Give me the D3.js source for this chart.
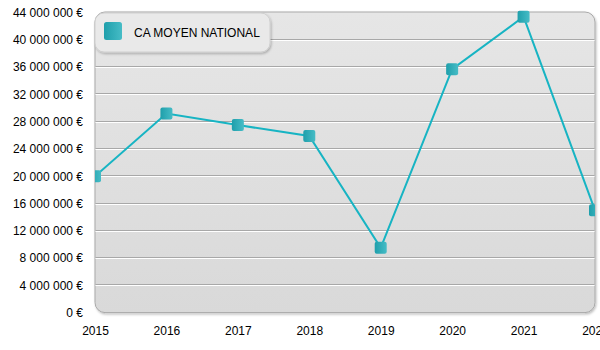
<!DOCTYPE html>
<html>
<head>
<meta charset="utf-8">
<script src="https://cdn.jsdelivr.net/npm/d3@7"></script>
<style>
  html, body { margin: 0; padding: 0; background: #ffffff; }
  svg { display: block; font-family: "Liberation Sans", Arial, sans-serif; }
</style>
</head>
<body>
<svg id="chart" width="600" height="350"></svg>
<script>
// Chiffre d'affaires moyen national par année
const years = ["2015", "2016", "2017", "2018", "2019", "2020", "2021", "2022"];
const caMoyen = [20000000, 29200000, 27500000, 25900000, 9500000, 35700000, 43400000, 15000000];
const yTicks = [0, 4000000, 8000000, 12000000, 16000000, 20000000, 24000000, 28000000, 32000000, 36000000, 40000000, 44000000];
const seriesName = "CA MOYEN NATIONAL";

const W = 600, H = 350;
const plot = { left: 95, right: 595, top: 12.6, bottom: 312.6 };

const svg = d3.select("#chart");
const defs = svg.append("defs");

const bg = defs.append("linearGradient").attr("id", "bgGrad")
  .attr("x1", 0).attr("y1", 0).attr("x2", 0).attr("y2", 1);
bg.append("stop").attr("offset", "0%").attr("stop-color", "#e6e6e6");
bg.append("stop").attr("offset", "100%").attr("stop-color", "#d9d9d9");

const mk = defs.append("linearGradient").attr("id", "mkGrad")
  .attr("x1", 0).attr("y1", 0).attr("x2", 1).attr("y2", 0);
mk.append("stop").attr("offset", "0%").attr("stop-color", "#1f9fab");
mk.append("stop").attr("offset", "100%").attr("stop-color", "#46bcc6");

const shadow = defs.append("filter").attr("id", "shadow")
  .attr("x", "-10%").attr("y", "-10%").attr("width", "130%").attr("height", "140%");
shadow.append("feDropShadow").attr("dx", 1).attr("dy", 1.5).attr("stdDeviation", 1.2)
  .attr("flood-color", "#000").attr("flood-opacity", 0.25);

defs.append("clipPath").attr("id", "plotClip")
  .append("rect")
  .attr("x", plot.left).attr("y", 0)
  .attr("width", plot.right - plot.left).attr("height", plot.bottom + 2);

const x = d3.scalePoint().domain(years).range([plot.left, plot.right]);
const y = d3.scaleLinear().domain([0, 44000000]).range([plot.bottom, plot.top]);

const fmt = v => d3.format(",")(v).replace(/,/g, " ") + " €";

// Plot background panel
svg.append("rect")
  .attr("x", plot.left).attr("y", plot.top - 0.6)
  .attr("width", plot.right - plot.left).attr("height", plot.bottom - plot.top + 0.6)
  .attr("rx", 10).attr("ry", 10)
  .attr("fill", "url(#bgGrad)")
  .attr("stroke", "#a9a9a9").attr("stroke-width", 1)
  .attr("filter", "url(#shadow)");

// Gridlines: grey line with a white highlight beneath
const gridVals = yTicks.filter(v => v > 0 && v < 44000000);
const grid = svg.append("g");
grid.selectAll("line.g1").data(gridVals).join("line")
  .attr("x1", plot.left + 0.5).attr("x2", plot.right - 0.5)
  .attr("y1", d => Math.round(y(d)) - 0.5).attr("y2", d => Math.round(y(d)) - 0.5)
  .attr("stroke", "#a8a8a8").attr("stroke-width", 1);
grid.selectAll("line.g2").data(gridVals).join("line")
  .attr("x1", plot.left + 0.5).attr("x2", plot.right - 0.5)
  .attr("y1", d => Math.round(y(d)) + 0.5).attr("y2", d => Math.round(y(d)) + 0.5)
  .attr("stroke", "#ffffff").attr("stroke-width", 1);

// Y axis labels
const yAxis = d3.axisLeft(y).tickValues(yTicks).tickFormat(fmt).tickSize(0).tickPadding(0);
const yg = svg.append("g").attr("transform", `translate(${plot.left - 12},0)`).call(yAxis);
yg.select(".domain").remove();
yg.selectAll("text").attr("font-size", 12).attr("fill", "#000")
  .attr("font-family", "'Liberation Sans', Arial, sans-serif");

// X axis labels
const xAxis = d3.axisBottom(x).tickSize(0).tickPadding(0);
const xg = svg.append("g").attr("transform", `translate(0,${plot.bottom + 14})`).call(xAxis);
xg.select(".domain").remove();
xg.selectAll("text").attr("font-size", 12).attr("fill", "#000")
  .attr("font-family", "'Liberation Sans', Arial, sans-serif");

// Series line and markers
const data = years.map((yr, i) => ({ year: yr, value: caMoyen[i] }));
const series = svg.append("g").attr("clip-path", "url(#plotClip)");
series.append("path")
  .datum(data)
  .attr("fill", "none")
  .attr("stroke", "#17b4c3")
  .attr("stroke-width", 2)
  .attr("d", d3.line().x(d => x(d.year)).y(d => y(d.value)));

const ms = 12;
series.selectAll("rect.marker").data(data).join("rect")
  .attr("class", "marker")
  .attr("x", d => x(d.year) - ms / 2).attr("y", d => y(d.value) - ms / 2)
  .attr("width", ms).attr("height", ms)
  .attr("rx", 2).attr("ry", 2)
  .attr("fill", "url(#mkGrad)");

// Legend
const lg = svg.append("g").attr("transform", "translate(95,13)");
lg.append("rect")
  .attr("x", 0).attr("y", 0).attr("width", 175).attr("height", 39)
  .attr("rx", 9).attr("ry", 9)
  .attr("fill", "#e9e9e9")
  .attr("stroke", "#cfcfcf").attr("stroke-width", 1)
  .attr("filter", "url(#shadow)");
lg.append("rect")
  .attr("x", 9).attr("y", 9).attr("width", 18).attr("height", 18)
  .attr("rx", 2.5).attr("ry", 2.5)
  .attr("fill", "url(#mkGrad)");
lg.append("text")
  .attr("x", 39).attr("y", 24)
  .attr("font-size", 12).attr("fill", "#000")
  .text(seriesName);
</script>
</body>
</html>
